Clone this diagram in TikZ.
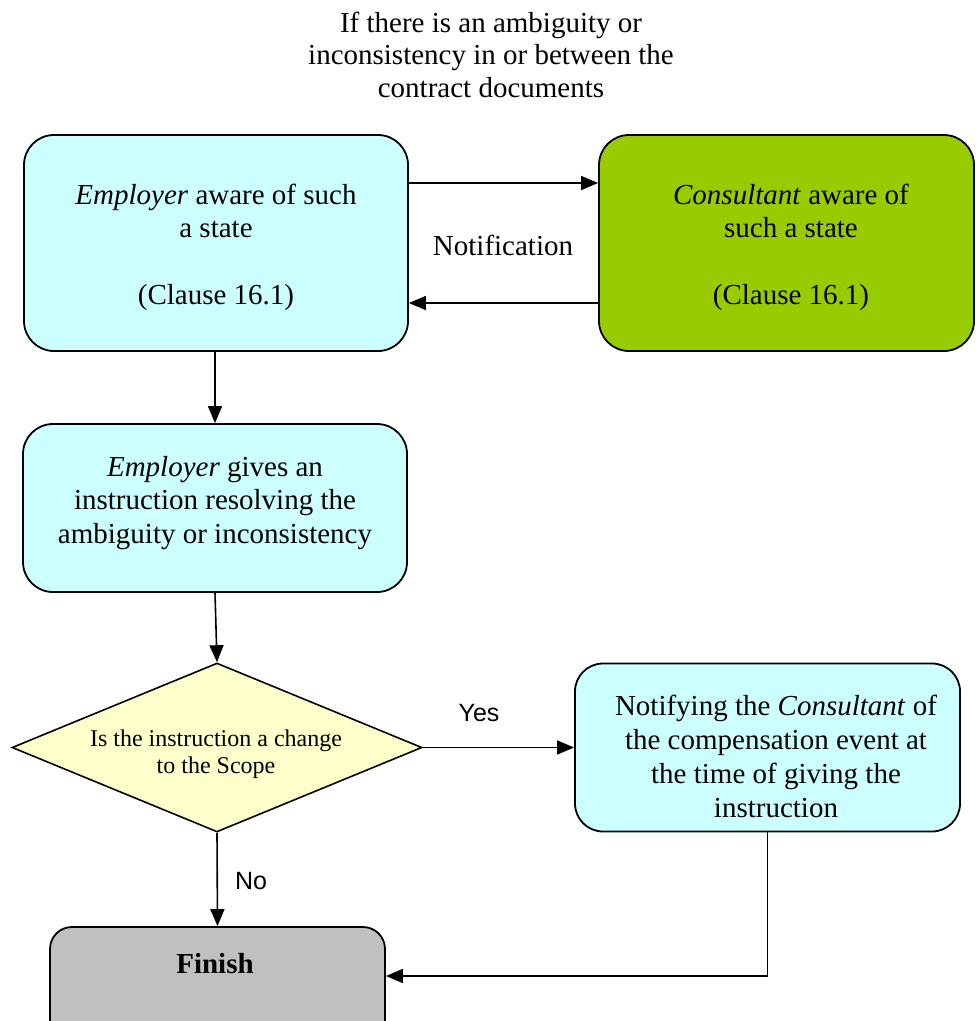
\documentclass[tikz,border=0pt]{standalone}
\usepackage{fontspec}
\setmainfont{Liberation Serif}
\newfontfamily\arialfont{Liberation Sans}
\usetikzlibrary{shapes.geometric,arrows.meta}
\definecolor{boxcyan}{HTML}{CCFFFF}
\definecolor{boxgreen}{HTML}{99CC00}
\definecolor{boxyellow}{HTML}{FFFFCC}
\definecolor{boxgray}{HTML}{C0C0C0}
\begin{document}
\begin{tikzpicture}[x=1pt,y=-1pt,
  box/.style={draw=black, line width=1.8pt, rounded corners=30pt, inner sep=0pt},
  conn/.style={line width=1.6pt, draw=black},
  arr/.style={conn, -{Triangle[length=17pt,width=14pt]}},
  txt/.style={anchor=base, inner sep=0pt, font=\fontsize{29}{34}\selectfont},
  smalltxt/.style={anchor=base, inner sep=0pt, font=\fontsize{24}{28}\selectfont},
  sanstxt/.style={anchor=base, inner sep=0pt, font=\arialfont\fontsize{25}{30}\selectfont}]
\useasboundingbox (0,0) rectangle (976,1021);
\clip (0,0) rectangle (976,1021);
\fill[white] (0,0) rectangle (976,1021);

% title
\node[txt] (t1) at (491,32) {If there is an ambiguity or};
\node[txt] (t2) at (491,64.5) {inconsistency in or between the};
\node[txt] (t3) at (491,97) {contract documents};

% boxes
\node[box, fill=boxcyan, minimum width=384pt, minimum height=216pt] (empaware) at (216,243) {};
\node[box, fill=boxgreen, minimum width=375pt, minimum height=216pt] (conaware) at (786.5,243) {};
\node[box, fill=boxcyan, minimum width=384pt, minimum height=168pt] (instr) at (215,508) {};
\node[draw=black, line width=1.6pt, diamond, fill=boxyellow, minimum width=410pt, minimum height=169pt, inner sep=0pt] (decide) at (217,747.5) {};
\node[box, rounded corners=28pt, fill=boxcyan, minimum width=385pt, minimum height=168pt] (notify) at (767.5,747.5) {};
\node[box, rounded corners=22pt, fill=boxgray, minimum width=335pt, minimum height=120pt] (finish) at (217.5,987) {};

% box texts
\node[txt] (a1) at (216,204) {\textit{Employer} aware of such};
\node[txt] (a2) at (216,237.5) {a state};
\node[txt] (a3) at (216,304.5) {(Clause 16.1)};
\node[txt] (b1) at (791,204) {\textit{Consultant} aware of};
\node[txt] (b2) at (791,237.5) {such a state};
\node[txt] (b3) at (791,304.5) {(Clause 16.1)};
\node[txt] (c1) at (215,476) {\textit{Employer} gives an};
\node[txt] (c2) at (215,509.5) {instruction resolving the};
\node[txt] (c3) at (215,543) {ambiguity or inconsistency};
\node[smalltxt] (d1) at (216,746) {Is the instruction a change};
\node[smalltxt] (d2) at (216,773) {to the Scope};
\node[txt] (e1) at (776,715) {Notifying the \textit{Consultant} of};
\node[txt] (e2) at (776,749) {the compensation event at};
\node[txt] (e3) at (776,783) {the time of giving the};
\node[txt] (e4) at (776,817) {instruction};
\node[txt] (f1) at (215,973) {\textbf{Finish}};

% connector labels
\node[txt] (lnotif) at (503,255) {Notification};
\node[sanstxt] (lyes) at (479,721) {Yes};
\node[sanstxt] (lno) at (251,889) {No};

% connectors
\draw[arr] ([yshift=60pt]empaware.east) -- ([yshift=60pt]conaware.west);
\draw[arr] ([yshift=-60pt]conaware.west) -- ([yshift=-60pt]empaware.east);
\draw[arr] (instr.north |- empaware.south) -- (instr.north);
\draw[arr] (instr.south) -- (decide.north);
\draw[arr] (decide.east) -- (notify.west);
\draw[arr] (decide.south) -- (finish.north);
\coordinate (bend) at (767.5,976);
\draw[arr] (notify.south) -- (bend) -- (bend -| finish.east);
\end{tikzpicture}
\end{document}
